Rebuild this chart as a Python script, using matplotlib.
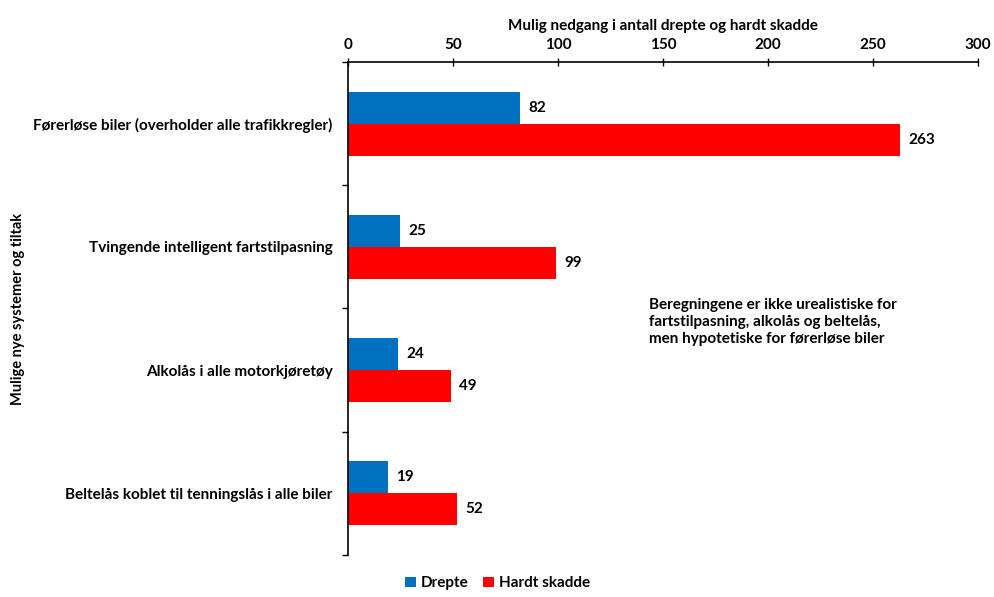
import numpy as np
import matplotlib.pyplot as plt

plt.rcParams["font.family"] = ["Lato", "DejaVu Sans"]
plt.rcParams["font.weight"] = "bold"

tiltak = ["Førerløse biler (overholder alle trafikkregler)",
          "Tvingende intelligent fartstilpasning",
          "Alkolås i alle motorkjøretøy",
          "Beltelås koblet til tenningslås i alle biler"]
drepte = [82, 25, 24, 19]
hardt_skadde = [263, 99, 49, 52]
xticks = [0, 50, 100, 150, 200, 250, 300]

blaa = "#0070C0"
roed = "#FF0000"
h = 0.26
fs = 11

fig = plt.figure(figsize=(9.95, 5.97), dpi=100)
ax = fig.add_axes([0.3497, 0.0704, 0.6333, 0.8257])

y = np.arange(len(tiltak))
b1 = ax.barh(y - h/2, drepte, height=h, color=blaa, label="Drepte")
b2 = ax.barh(y + h/2, hardt_skadde, height=h, color=roed, label="Hardt skadde")

for bars, vals in [(b1, drepte), (b2, hardt_skadde)]:
    for rect, v in zip(bars, vals):
        ax.annotate(str(v), (v, rect.get_y() + rect.get_height()/2),
                    xytext=(6, 0), textcoords="offset points",
                    va="center", ha="left", fontsize=fs, fontweight="bold")

ax.set_xlim(0, 300)
ax.set_ylim(len(tiltak) - 0.5, -0.5)

# x-akse oppe
ax.xaxis.tick_top()
ax.xaxis.set_label_position("top")
ax.set_xticks(xticks)
ax.tick_params(axis="x", direction="inout", length=6, width=1, pad=4, labelsize=fs)
ax.set_xlabel("Mulig nedgang i antall drepte og hardt skadde", fontsize=fs,
              fontweight="bold", labelpad=6)

# skillestreker mellom gruppene, kategorinavn midt i gruppa
ax.set_yticks(np.arange(len(tiltak) + 1) - 0.5)
ax.set_yticklabels([])
ax.set_yticks(y, minor=True)
ax.set_yticklabels(tiltak, minor=True, fontsize=fs, fontweight="bold")
ax.tick_params(axis="y", which="major", direction="out", length=4, width=1)
ax.tick_params(axis="y", which="minor", length=0, pad=11)
ax.set_ylabel("Mulige nye systemer og tiltak", fontsize=10.5, fontweight="bold")
ax.yaxis.set_label_coords(-0.512, 0.5)

for s in ["right", "bottom"]:
    ax.spines[s].set_visible(False)
for s in ["top", "left"]:
    ax.spines[s].set_linewidth(1.2)

ax.text(0.477, 0.473,
        "Beregningene er ikke urealistiske for\nfartstilpasning, alkolås og beltelås,\nmen hypotetiske for førerløse biler",
        transform=ax.transAxes, fontsize=fs, fontweight="bold",
        va="center", ha="left", linespacing=1.3)

fig.legend(handles=[b1, b2], loc="center", bbox_to_anchor=(0.5, 0.023), ncol=2,
           frameon=False, fontsize=fs, handlelength=0.7, handleheight=0.7,
           handletextpad=0.3, columnspacing=1.0)

fig.savefig("out.png", dpi=100)
